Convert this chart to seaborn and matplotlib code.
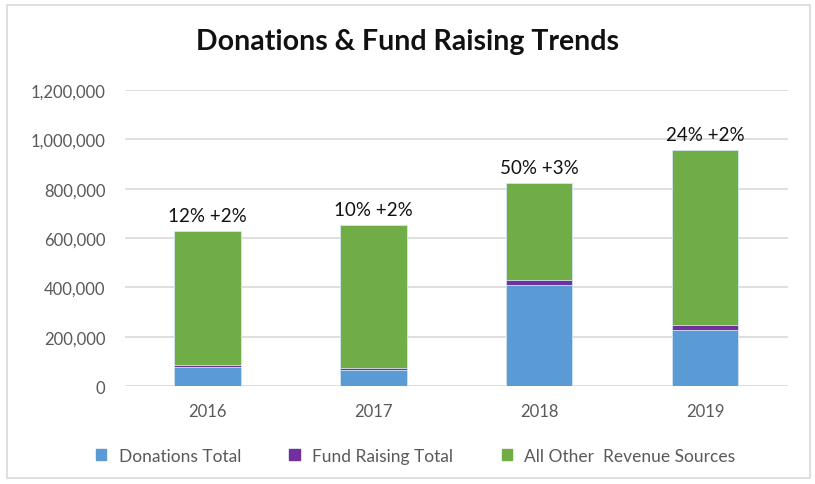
import numpy as np
import pandas as pd
import seaborn as sns
import matplotlib.pyplot as plt
import matplotlib.patches as mpatches

# values
years = ["2016", "2017", "2018", "2019"]
donations = [76000, 65000, 411000, 227000]
fund_raising = [10000, 8000, 21000, 20000]
other_revenue = [542000, 580000, 390000, 709000]
bar_labels = ["12% +2%", "10% +2%", "50% +3%", "24% +2%"]

series_names = ["Donations Total", "Fund Raising Total", "All Other  Revenue Sources"]
colors = ["#5B9BD5", "#7030A0", "#70AD47"]

sns.set_theme(style="white")
plt.rcParams['font.family'] = ['Lato', 'DejaVu Sans']

df = pd.DataFrame({"year": years, "don": donations, "fund": fund_raising, "other": other_revenue})
df["lvl1"] = df["don"]
df["lvl2"] = df["don"] + df["fund"]
df["lvl3"] = df["lvl2"] + df["other"]

fig = plt.figure(figsize=(8.15, 4.85), dpi=100)
ax = fig.add_axes([0.153, 0.202, 0.814, 0.610])

# stacked bars: draw the cumulative heights from tallest to shortest
for col, c in zip(["lvl3", "lvl2", "lvl1"], colors[::-1]):
    sns.barplot(data=df, x="year", y=col, color=c, width=0.4, ax=ax,
                edgecolor="#D6E6F2", linewidth=0.6, saturation=1, zorder=3)

for i, lab in enumerate(bar_labels):
    ax.text(i, df["lvl3"][i] + 30000, lab, ha="center", va="bottom",
            fontsize=13.5, color="#111111")

ax.set_ylim(0, 1200000)
ax.set_xlim(-0.5, 3.5)
ax.set_yticks(np.arange(0, 1200001, 200000))
ax.yaxis.set_major_formatter(plt.FuncFormatter(lambda v, p: f"{int(v):,}"))
ax.grid(axis="y", color="#D9D9D9", linewidth=1.2, zorder=0)
ax.grid(axis="x", visible=False)
for s in ax.spines.values():
    s.set_visible(False)
ax.tick_params(axis="both", length=0, labelsize=12, colors="#595959")
ax.tick_params(axis="y", pad=14)
ax.tick_params(axis="x", pad=12)
ax.set_xlabel("")
ax.set_ylabel("")

fig.suptitle("Donations & Fund Raising Trends", fontsize=20.5, fontweight="bold",
             color="#111111", y=0.94)

handles = [mpatches.Patch(color=c, label=n) for c, n in zip(colors, series_names)]
leg = fig.legend(handles=handles, loc="center", bbox_to_anchor=(0.51, 0.058), ncol=3,
                 frameon=False, fontsize=12.5, handlelength=0.6, handleheight=0.6,
                 columnspacing=2.8, handletextpad=0.7)
for t in leg.get_texts():
    t.set_color("#595959")

fig.patches.append(mpatches.Rectangle((0.008, 0.012), 0.986, 0.975, transform=fig.transFigure,
                                      fill=False, edgecolor="#D9D9D9", linewidth=1.2))

fig.savefig("out.png", dpi=100)
